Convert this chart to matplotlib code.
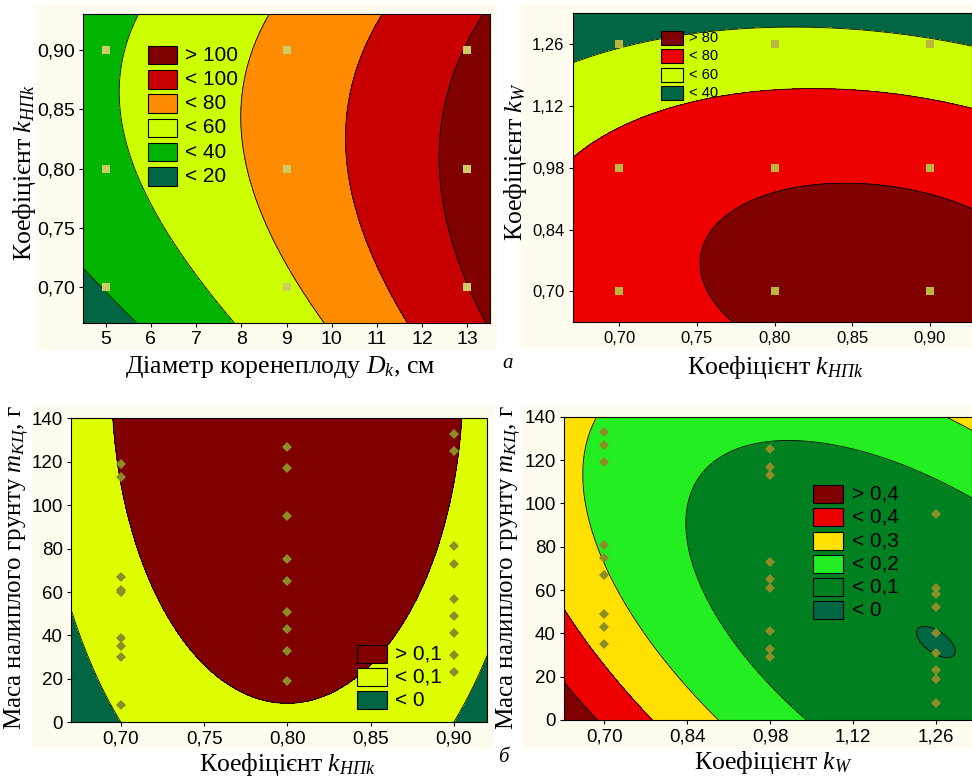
import numpy as np
import matplotlib.pyplot as plt
from matplotlib.patches import Rectangle

plt.rcParams['mathtext.fontset'] = 'custom'
plt.rcParams['mathtext.rm'] = 'Liberation Serif'
plt.rcParams['mathtext.it'] = 'Liberation Serif:italic'

# точки плану експерименту
dk_plan = [5, 9, 13]
khl_plan = [0.70, 0.80, 0.90]
kw_plan = [0.70, 0.98, 1.26]

# маса налиплого грунту в дослідах (рис. б)
m_khl_070 = [119, 113, 67, 61, 60, 39, 35, 30, 8]
m_khl_080 = [127, 117, 95, 75, 65, 51, 43, 33, 19]
m_khl_090 = [133, 125, 81, 73, 57, 49, 41, 31, 23]
m_kw_070 = [133, 127, 119, 81, 75, 67, 49, 43, 35]
m_kw_098 = [125, 117, 113, 73, 65, 61, 41, 33, 29]
m_kw_126 = [95, 61, 58, 52, 40, 31, 23, 19, 8]

# поверхні відгуку: z = b0 + b1*u + b2*v + b11*u^2 + b22*v^2 + b12*u*v, u = x - xc, v = y - yc
surf1_center = [8.9, 0.82]
surf1_coef = [67.4, 8.67, 20.3, 0.2, -620.0, -9.6]
surf2_center = [0.8668, 0.723]
surf2_coef = [87.0, 0.0, 0.0, -550.0, -146.8, -105.1]
surf3_center = [0.80, 8.75]
surf3_coef = [0.1, 0.0, 1.3197e-3, -8.81, -4.431e-6, 0.0]
surf4_center = [1.26, 36.0]
surf4_coef = [-0.0006, 0.0, 0.0, 0.864, 1.78e-5, 4.62e-3]

levels1 = [20, 40, 60, 80, 100]
levels2 = [40, 60, 80]
levels3 = [0, 0.1]
levels4 = [0, 0.1, 0.2, 0.3, 0.4]

colors1 = ['#006644', '#00B400', '#CCFF00', '#FF8C00', '#C80000', '#800000']
colors2 = ['#006644', '#CCFF00', '#EE0000', '#800000']
colors3 = ['#006644', '#DDFF00', '#800000']
colors4 = ['#006644', '#008020', '#22EE22', '#FFE000', '#EE0000', '#800000']

xt1 = [5, 6, 7, 8, 9, 10, 11, 12, 13]
yt1 = [0.70, 0.75, 0.80, 0.85, 0.90]
xt2 = [0.70, 0.75, 0.80, 0.85, 0.90]
yt2 = [0.70, 0.84, 0.98, 1.12, 1.26]
xt3 = [0.70, 0.75, 0.80, 0.85, 0.90]
yt3 = [0, 20, 40, 60, 80, 100, 120, 140]
xt4 = [0.70, 0.84, 0.98, 1.12, 1.26]
yt4 = yt3

W, H = 972, 778
CREAM = '#FFFBEF'
SERIF = 'Liberation Serif'
SANS = 'Liberation Sans'
LABEL_SIZE = 18.5


def comma(v):
    return ('%.2f' % v).replace('.', ',')


def surface(ax, center, coef, levels, colors):
    x0, x1 = ax.get_xlim()
    y0, y1 = ax.get_ylim()
    X, Y = np.meshgrid(np.linspace(x0, x1, 400), np.linspace(y0, y1, 400))
    u = X - center[0]
    v = Y - center[1]
    Z = coef[0] + coef[1] * u + coef[2] * v + coef[3] * u ** 2 + coef[4] * v ** 2 + coef[5] * u * v
    ax.contourf(X, Y, Z, levels=[-1e9] + levels + [1e9], colors=colors)
    ax.contour(X, Y, Z, levels=levels, colors='k', linewidths=0.6)


def legend(ax, levels, colors, x, y, dy, w, h, tx, size, dec):
    f = (lambda v: ('%g' % v).replace('.', ',')) if dec else (lambda v: '%g' % v)
    labels = ['> ' + f(levels[-1])] + ['< ' + f(l) for l in reversed(levels)]
    for i, (lab, c) in enumerate(zip(labels, colors[::-1])):
        yc = y - i * dy
        ax.add_patch(Rectangle((x, yc - h / 2), w, h, transform=ax.transAxes,
                               facecolor=c, edgecolor='k', linewidth=0.8, zorder=5))
        ax.text(tx, yc, lab, transform=ax.transAxes, ha='left', va='center',
                fontsize=size, family=SANS, zorder=5)


def make_ax(fig, px, xlim, ylim):
    l, r, t, b = px
    ax = fig.add_axes([l / W, 1 - b / H, (r - l) / W, (b - t) / H])
    ax.set_xlim(xlim)
    ax.set_ylim(ylim)
    return ax


def ticks(ax, xt, yt, xlab, ylab, size):
    ax.set_xticks(xt)
    ax.set_xticklabels(xlab, fontsize=size, family=SANS)
    ax.set_yticks(yt)
    ax.set_yticklabels(ylab, fontsize=size, family=SANS)
    ax.tick_params(length=3, width=0.8, pad=3)
    for s in ax.spines.values():
        s.set_linewidth(0.8)


fig = plt.figure(figsize=(W / 100, H / 100), dpi=100)

# кремовий фон під кожним графіком
for l, t, r, b in [(36, 4, 497, 350), (520, 4, 972, 348), (32, 405, 493, 749), (523, 405, 972, 749)]:
    fig.patches.append(Rectangle((l / W, 1 - b / H), (r - l) / W, (b - t) / H,
                                 transform=fig.transFigure, facecolor=CREAM, edgecolor='none', zorder=-10))

# верхній лівий
ax1 = make_ax(fig, (83, 490, 14, 323), (4.5, 13.5), (0.67, 0.93))
surface(ax1, surf1_center, surf1_coef, levels1, colors1)
xx, yy = np.meshgrid(dk_plan, khl_plan)
ax1.plot(xx.ravel(), yy.ravel(), 's', color='#CCCC66', markersize=6, markeredgewidth=0, zorder=4)
ticks(ax1, xt1, yt1, ['%d' % v for v in xt1], [comma(v) for v in yt1], 14)
legend(ax1, levels1, colors1, 0.1604, 0.867, 0.0785, 0.0713, 0.0605, 0.2506, 15, False)
ax1.set_xlabel('Діаметр коренеплоду $D_k$, см', family=SERIF, fontsize=LABEL_SIZE, va='center')
ax1.xaxis.set_label_coords((280 - 83) / 407, (323 - 367) / 309)
ax1.set_ylabel('Коефіцієнт $k_{НПk}$', family=SERIF, fontsize=LABEL_SIZE, va='center')
ax1.yaxis.set_label_coords((24 - 83) / 407, (323 - 173) / 309)

# верхній правий
ax2 = make_ax(fig, (572.7, 972, 13.3, 322.3), (0.67, 0.927), (0.63, 1.33))
surface(ax2, surf2_center, surf2_coef, levels2, colors2)
xx, yy = np.meshgrid(khl_plan, kw_plan)
ax2.plot(xx.ravel(), yy.ravel(), 's', color='#B8B840', markersize=6, markeredgewidth=0, zorder=4)
ticks(ax2, xt2, yt2, [comma(v) for v in xt2], [comma(v) for v in yt2], 12)
legend(ax2, levels2, colors2, 0.2204, 0.920, 0.0593, 0.0551, 0.0453, 0.2913, 10.5, False)
ax2.set_xlabel('Коефіцієнт $k_{НПk}$', family=SERIF, fontsize=LABEL_SIZE, va='center')
ax2.xaxis.set_label_coords((775 - 572.7) / 399.3, (322.3 - 368) / 309)
ax2.set_ylabel('Коефіцієнт $k_W$', family=SERIF, fontsize=LABEL_SIZE, va='center')
ax2.yaxis.set_label_coords((515 - 572.7) / 399.3, (322.3 - 162) / 309)

# нижній лівий
ax3 = make_ax(fig, (71, 487, 418.3, 722.3), (0.67, 0.92), (0, 140))
surface(ax3, surf3_center, surf3_coef, levels3, colors3)
for kx, ms in zip(khl_plan, [m_khl_070, m_khl_080, m_khl_090]):
    ax3.plot([kx] * len(ms), ms, 'D', color='#8C8C28', markersize=5, markeredgewidth=0, zorder=4)
ticks(ax3, xt3, yt3, [comma(v) for v in xt3], ['%d' % v for v in yt3], 13.5)
legend(ax3, levels3, colors3, 0.6868, 0.2257, 0.0767, 0.0721, 0.0592, 0.7788, 15, True)
ax3.set_xlabel('Коефіцієнт $k_{НПk}$', family=SERIF, fontsize=LABEL_SIZE, va='center')
ax3.xaxis.set_label_coords((287 - 71) / 416, (722.3 - 765) / 304)
ax3.set_ylabel('Маса налиплого грунту $m_{КЦ}$, г', family=SERIF, fontsize=18, va='center')
ax3.yaxis.set_label_coords((17 - 71) / 416, (722.3 - 568) / 304)

# нижній правий
ax4 = make_ax(fig, (564, 972, 416.7, 720), (0.632, 1.321), (0, 140))
surface(ax4, surf4_center, surf4_coef, levels4, colors4)
for kx, ms in zip(kw_plan, [m_kw_070, m_kw_098, m_kw_126]):
    ax4.plot([kx] * len(ms), ms, 'D', color='#8C8C28', markersize=5, markeredgewidth=0, zorder=4)
ticks(ax4, xt4, yt4, [comma(v) for v in xt4], ['%d' % v for v in yt4], 13.5)
legend(ax4, levels4, colors4, 0.6096, 0.745, 0.0767, 0.0735, 0.0593, 0.705, 15, True)
ax4.set_xlabel('Коефіцієнт $k_W$', family=SERIF, fontsize=LABEL_SIZE, va='center')
ax4.xaxis.set_label_coords((773 - 564) / 408, (720 - 763) / 303.3)
ax4.set_ylabel('Маса налиплого грунту $m_{КЦ}$, г', family=SERIF, fontsize=18, va='center')
ax4.yaxis.set_label_coords((509 - 564) / 408, (720 - 568) / 303.3)

fig.text(508 / W, 1 - 363 / H, 'а', family=SERIF, style='italic', fontsize=15, ha='center', va='center')
fig.text(503 / W, 1 - 758 / H, 'б', family=SERIF, style='italic', fontsize=15, ha='center', va='center')

fig.savefig('out.png', dpi=100)
